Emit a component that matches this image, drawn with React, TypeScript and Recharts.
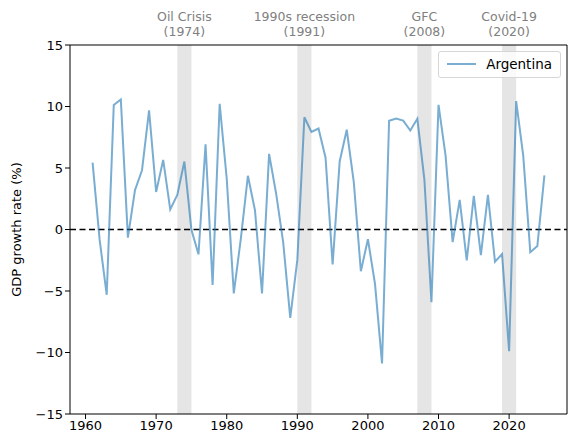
import React from 'react';
import {
    LineChart,
    Line,
    XAxis,
    YAxis,
    ReferenceArea,
    ReferenceLine,
} from 'recharts';

const years = [
    1961, 1962, 1963, 1964, 1965, 1966, 1967, 1968, 1969, 1970,
    1971, 1972, 1973, 1974, 1975, 1976, 1977, 1978, 1979, 1980,
    1981, 1982, 1983, 1984, 1985, 1986, 1987, 1988, 1989, 1990,
    1991, 1992, 1993, 1994, 1995, 1996, 1997, 1998, 1999, 2000,
    2001, 2002, 2003, 2004, 2005, 2006, 2007, 2008, 2009, 2010,
    2011, 2012, 2013, 2014, 2015, 2016, 2017, 2018, 2019, 2020,
    2021, 2022, 2023, 2024, 2025,
];

const growth = [
    5.43, -0.85, -5.31, 10.13, 10.57, -0.66, 3.19, 4.82, 9.68, 3.05,
    5.66, 1.63, 2.81, 5.53, -0.03, -2.02, 6.93, -4.51, 10.22, 4.15,
    -5.19, -0.74, 4.37, 1.57, -5.19, 6.15, 2.91, -1.05, -7.18, -2.47,
    9.13, 7.94, 8.21, 5.84, -2.85, 5.53, 8.11, 3.85, -3.39, -0.79,
    -4.41, -10.89, 8.84, 9.03, 8.85, 8.05, 9.01, 4.06, -5.92, 10.13,
    6.0, -1.03, 2.41, -2.51, 2.73, -2.08, 2.82, -2.62, -2.0, -9.9,
    10.44, 6.0, -1.85, -1.35, 4.4,
];

const crises = [
    { name: 'Oil Crisis', year: 1974, from: 1973, to: 1975 },
    { name: '1990s recession', year: 1991, from: 1990, to: 1992 },
    { name: 'GFC', year: 2008, from: 2007, to: 2009 },
    { name: 'Covid-19', year: 2020, from: 2019, to: 2021 },
];

const xTicks = [1960, 1970, 1980, 1990, 2000, 2010, 2020];
const yTicks = [-15, -10, -5, 0, 5, 10, 15];

const X_MIN = 1957.8;
const X_MAX = 2028.2;
const LINE = '#1f77b4';
const FONT = 'DejaVu Sans, sans-serif';

const chartData = years.map((year, i) => ({ year, value: growth[i] }));

const formatTick = (v: number) => (v < 0 ? `\u2212${Math.abs(v)}` : `${v}`);

// eslint-disable-next-line @typescript-eslint/no-explicit-any
const crisisLabel = (name: string, year: number) => (props: any) => {
    const { x, width, y } = props.viewBox;
    const cx = x + width / 2;
    return (
        <text x={cx} y={y - 24} textAnchor="middle" fill="#808080" fontSize={12.5} fontFamily={FONT}>
            <tspan x={cx} dy={0}>{name}</tspan>
            <tspan x={cx} dy={15}>({year})</tspan>
        </text>
    );
};

const LegendBox = () => (
    <div
        style={{
            position: 'absolute',
            right: 14,
            top: 51,
            border: '1px solid #d6d6d6',
            borderRadius: 3,
            background: 'rgba(255,255,255,0.8)',
            padding: '4px 8px 5px 8px',
            display: 'flex',
            alignItems: 'center',
            fontFamily: FONT,
            fontSize: 13.5,
            color: '#000',
        }}
    >
        <svg width={29} height={10} style={{ marginRight: 10 }}>
            <line x1={0} y1={5} x2={29} y2={5} stroke={LINE} strokeOpacity={0.6} strokeWidth={2} />
        </svg>
        Argentina
    </div>
);

export default function App() {
    return (
        <div style={{ position: 'absolute', left: 0, top: 0, width: 575, height: 448, background: '#fff' }}>
            <LineChart
                width={575}
                height={448}
                data={chartData}
                margin={{ top: 45, right: 8, left: 0, bottom: 0 }}
            >
                <XAxis
                    dataKey="year"
                    type="number"
                    domain={[X_MIN, X_MAX]}
                    ticks={xTicks}
                    allowDataOverflow
                    height={34}
                    tick={{ fill: '#000', fontSize: 13, fontFamily: FONT }}
                    tickSize={5}
                    axisLine={{ stroke: '#000', strokeWidth: 1 }}
                    tickLine={{ stroke: '#000' }}
                />
                <YAxis
                    type="number"
                    domain={[-15, 15]}
                    ticks={yTicks}
                    width={70}
                    tickFormatter={formatTick}
                    tick={{ fill: '#000', fontSize: 13, fontFamily: FONT }}
                    tickSize={5}
                    axisLine={{ stroke: '#000', strokeWidth: 1 }}
                    tickLine={{ stroke: '#000' }}
                    label={{
                        value: 'GDP growth rate (%)',
                        angle: -90,
                        position: 'insideLeft',
                        offset: 16,
                        style: { textAnchor: 'middle', fill: '#000', fontSize: 13, fontFamily: FONT },
                    }}
                />
                {crises.map((c) => (
                    <ReferenceArea
                        key={c.name}
                        x1={c.from}
                        x2={c.to}
                        y1={-15}
                        y2={15}
                        fill="#7f7f7f"
                        fillOpacity={0.2}
                        stroke="none"
                        label={crisisLabel(c.name, c.year)}
                    />
                ))}
                <ReferenceLine y={0} stroke="#000" strokeWidth={1.6} strokeDasharray="6 3.5" />
                <ReferenceLine y={15} stroke="#000" strokeWidth={1} />
                <ReferenceLine x={X_MAX} stroke="#000" strokeWidth={1} />
                <Line
                    type="linear"
                    dataKey="value"
                    stroke={LINE}
                    strokeOpacity={0.6}
                    strokeWidth={2}
                    dot={false}
                    isAnimationActive={false}
                />
            </LineChart>
            <LegendBox />
        </div>
    );
}
